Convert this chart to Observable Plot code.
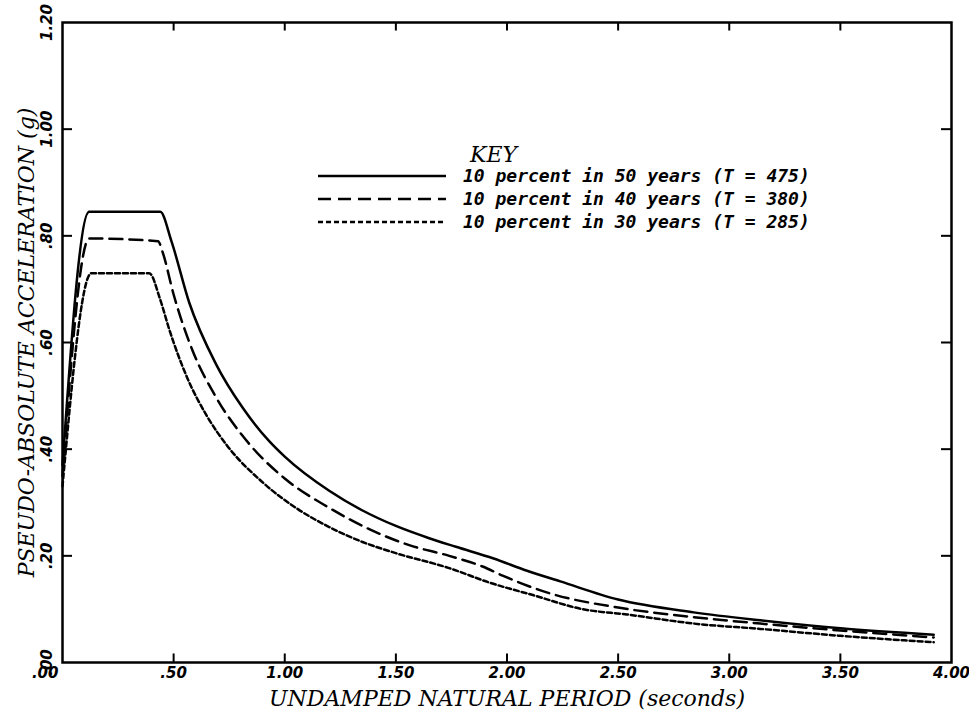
<!DOCTYPE html>
<html><head><meta charset="utf-8">
<script src="https://cdn.jsdelivr.net/npm/d3@7"></script>
<script src="https://cdn.jsdelivr.net/npm/@observablehq/plot@0.6"></script>
<style>body{margin:0;background:#fff} #chart{width:969px;height:717px}</style>
</head><body><div id="chart"></div><script>
// Tick values
const xTicks = [0, 0.5, 1.0, 1.5, 2.0, 2.5, 3.0, 3.5, 4.0];
const yTicks = [0, 0.2, 0.4, 0.6, 0.8, 1.0, 1.2];

// Series: 10 percent in 50 years (T = 475)
const periods50 = [0, 0.12, 0.44, 0.49, 0.57, 0.69, 0.81, 0.93, 1.00, 1.20, 1.35, 1.50, 1.65, 1.77, 1.94, 2.09, 2.24, 2.50, 2.84, 3.14, 3.50, 3.92];
const accel50   = [0.37, 0.845, 0.845, 0.79, 0.675, 0.56, 0.478, 0.415, 0.386, 0.322, 0.285, 0.256, 0.233, 0.217, 0.195, 0.172, 0.152, 0.118, 0.094, 0.079, 0.064, 0.052];
// Series: 10 percent in 40 years (T = 380)
const periods40 = [0, 0.12, 0.43, 0.45, 0.50, 0.585, 0.69, 0.84, 1.00, 1.20, 1.38, 1.56, 1.74, 1.89, 1.98, 2.19, 2.50, 2.84, 3.14, 3.50, 3.92];
const accel40   = [0.35, 0.795, 0.79, 0.77, 0.69, 0.585, 0.498, 0.41, 0.345, 0.29, 0.25, 0.22, 0.20, 0.18, 0.163, 0.13, 0.103, 0.085, 0.073, 0.06, 0.047];
// Series: 10 percent in 30 years (T = 285)
const periods30 = [0, 0.13, 0.39, 0.44, 0.48, 0.56, 0.65, 0.74, 0.90, 1.05, 1.20, 1.35, 1.50, 1.74, 1.92, 2.12, 2.34, 2.54, 2.84, 3.14, 3.50, 3.92];
const accel30   = [0.33, 0.73, 0.73, 0.68, 0.625, 0.535, 0.462, 0.407, 0.338, 0.29, 0.254, 0.226, 0.205, 0.177, 0.15, 0.126, 0.10, 0.09, 0.073, 0.063, 0.05, 0.038];

const seriesLabels = [
  "10 percent in 50 years (T = 475)",
  "10 percent in 40 years (T = 380)",
  "10 percent in 30 years (T = 285)"
];
const dashes = [null, "13,7", "5,3"];

const fmt = d => d < 1 ? d.toFixed(2).slice(1) : d.toFixed(2);
const toRows = (xs, ys) => xs.map((x, i) => ({x, y: ys[i]}));
const rows = [toRows(periods50, accel50), toRows(periods40, accel40), toRows(periods30, accel30)];

const tickFont = {fontFamily: "DejaVu Sans", fontWeight: "bold", fontStyle: "italic", fontSize: 15, fill: "black"};
const titleFont = {fontFamily: "DejaVu Serif", fontStyle: "italic", fontSize: 22, fill: "black", textAnchor: "middle", lineAnchor: "middle"};

const inner = xTicks.slice(1, -1);
const innerY = yTicks.slice(1, -1);

const plot = Plot.plot({
  width: 969, height: 717,
  marginLeft: 62, marginRight: 18, marginTop: 22, marginBottom: 55,
  x: {domain: [0, 4], axis: null},
  y: {domain: [0, 1.2], axis: null},
  marks: [
    Plot.frame({stroke: "black", strokeWidth: 2.5}),
    Plot.ruleX(inner, {x: d => d, y1: 0, y2: 0.016, stroke: "black", strokeWidth: 2}),
    Plot.ruleX(inner, {x: d => d, y1: 1.2, y2: 1.184, stroke: "black", strokeWidth: 2}),
    Plot.ruleY(innerY, {y: d => d, x1: 0, x2: 0.045, stroke: "black", strokeWidth: 2}),
    Plot.ruleY(innerY, {y: d => d, x1: 4, x2: 3.955, stroke: "black", strokeWidth: 2}),
    ...rows.map((r, i) => Plot.line(r, {x: "x", y: "y", stroke: "black", strokeWidth: 2.5, strokeDasharray: dashes[i], curve: "monotone-x"})),
    Plot.text(xTicks.slice(1), {x: d => d, y: 0, text: fmt, dy: 11, lineAnchor: "middle", ...tickFont}),
    Plot.text(xTicks.slice(0, 1), {x: d => d, y: 0, text: fmt, dy: 11, dx: -4, lineAnchor: "middle", textAnchor: "end", ...tickFont}),
    Plot.text(yTicks, {x: 0, y: d => d, text: fmt, rotate: -90, dx: -15, ...tickFont}),
    Plot.text(["UNDAMPED NATURAL PERIOD (seconds)"], {frameAnchor: "bottom", dy: 36, text: d => d, ...titleFont}),
    Plot.text(["PSEUDO-ABSOLUTE ACCELERATION (g)"], {frameAnchor: "left", rotate: -90, dx: -36, text: d => d, ...titleFont})
  ]
});

// Key (legend) drawn inside the plot area
const svg = d3.select(plot);
const key = svg.append("g").attr("text-anchor", "start");
key.append("text").attr("x", 470).attr("y", 162).text("KEY")
  .attr("font-family", "DejaVu Serif").attr("font-style", "italic").attr("font-size", 22).attr("fill", "black");
seriesLabels.forEach((lab, i) => {
  const yy = 176 + i * 23;
  key.append("line").attr("x1", 318).attr("x2", 446).attr("y1", yy).attr("y2", yy)
    .attr("stroke", "black").attr("stroke-width", 2.5).attr("stroke-dasharray", dashes[i]);
  key.append("text").attr("x", 463).attr("y", yy + 6).text(lab)
    .attr("font-family", "DejaVu Sans Mono").attr("font-style", "italic").attr("font-weight", "bold")
    .attr("font-size", 18).attr("fill", "black");
});

document.getElementById("chart").appendChild(plot);
</script></body></html>
